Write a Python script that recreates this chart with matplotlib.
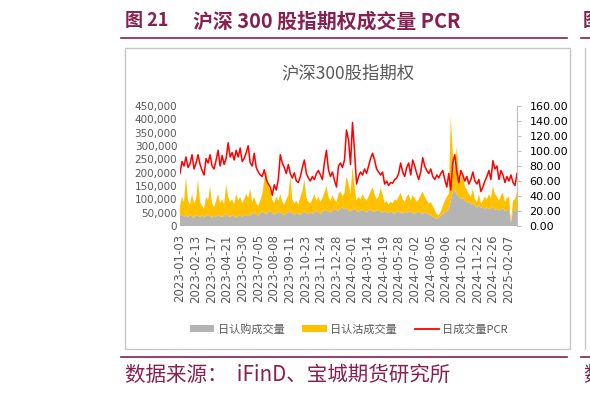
"""沪深300股指期权成交量 PCR - redraw of the report figure."""
import numpy as np
import matplotlib
matplotlib.use('Agg')
import matplotlib.pyplot as plt
from matplotlib.patches import Rectangle, Patch
from matplotlib.lines import Line2D
from matplotlib.ticker import FuncFormatter, FormatStrFormatter

plt.rcParams['font.family'] = ['Noto Sans CJK SC', 'DejaVu Sans']

# dates shown on the x axis (one label every 23 trading days)
tick_labels = ['2023-01-03', '2023-02-13', '2023-03-17', '2023-04-21', '2023-05-30',
               '2023-07-05', '2023-08-08', '2023-09-11', '2023-10-23', '2023-11-24',
               '2023-12-28', '2024-02-01', '2024-03-14', '2024-04-19', '2024-05-28',
               '2024-07-02', '2024-08-05', '2024-09-06', '2024-10-21', '2024-11-22',
               '2024-12-26', '2025-02-07']
tick_step = 7.8  # data points between two labelled dates

# daily call volume, thousand contracts (sampled every ~3 trading days)
call_k = [38, 42, 35, 40, 33, 44, 36, 30, 41, 38,
          34, 40, 32, 37, 44, 36, 31, 39, 35, 42,
          37, 33, 40, 45, 38, 34, 41, 36, 30, 38,
          42, 35, 39, 44, 37, 40, 46, 50, 43, 38,
          48, 55, 50, 44, 52, 58, 49, 42, 47, 54,
          50, 45, 40, 48, 52, 56, 47, 43, 50, 46,
          42, 49, 55, 48, 44, 51, 46, 52, 58, 50,
          47, 53, 58, 62, 55, 50, 57, 64, 60, 55,
          66, 70, 62, 68, 58, 54, 60, 65, 57, 52,
          59, 62, 56, 50, 58, 63, 55, 52, 57, 61,
          54, 50, 56, 52, 48, 55, 50, 46, 53, 57,
          50, 47, 54, 49, 52, 56, 48, 45, 51, 55,
          49, 46, 52, 48, 44, 40, 36, 30, 28, 32,
          38, 45, 50, 55, 62, 95, 130, 135, 118, 110,
          100, 105, 95, 88, 92, 80, 85, 75, 70, 78,
          68, 72, 65, 70, 62, 66, 72, 60, 64, 58,
          62, 68, 55, 60, 64, 12, 56, 58, 62]

# daily put volume, thousand contracts
put_k = [37, 68, 55, 145, 62, 36, 84, 55, 59, 137,
         56, 35, 33, 73, 51, 114, 54, 31, 60, 78,
         48, 67, 40, 111, 72, 56, 59, 44, 90, 57,
         68, 50, 61, 76, 68, 100, 44, 60, 42, 37,
         47, 65, 120, 166, 98, 72, 51, 43, 63, 41,
         70, 45, 40, 52, 63, 129, 53, 42, 45, 34,
         68, 81, 120, 57, 46, 34, 54, 68, 37, 60,
         43, 52, 67, 88, 55, 45, 58, 36, 30, 65,
         64, 40, 63, 117, 102, 66, 162, 85, 38, 58,
         41, 58, 49, 45, 52, 67, 90, 68, 43, 49,
         88, 70, 29, 43, 32, 35, 35, 54, 42, 53,
         75, 53, 36, 61, 68, 39, 67, 60, 39, 45,
         66, 84, 58, 47, 41, 50, 39, 30, 17, 8,
         17, 30, 45, 55, 58, 315, 143, 75, 179, 80,
         70, 95, 55, 47, 28, 30, 55, 25, 20, 42,
         17, 23, 45, 30, 58, 39, 78, 60, 46, 37,
         53, 57, 35, 45, 46, 4, 39, 42, 68]

# volume PCR (right axis)
pcr = [70, 86, 80, 92, 78, 83, 95, 76, 84, 95,
       82, 74, 68, 90, 84, 95, 80, 76, 88, 101,
       80, 94, 82, 90, 111, 92, 98, 88, 101, 92,
       104, 86, 90, 98, 107, 84, 80, 97, 78, 72,
       68, 66, 75, 62, 56, 52, 41, 55, 48, 62,
       95, 84, 78, 70, 82, 70, 64, 71, 60, 58,
       66, 78, 88, 70, 64, 60, 66, 62, 70, 74,
       68, 62, 85, 101, 75, 66, 72, 61, 52, 80,
       84, 78, 88, 128, 115, 82, 138, 100, 56, 66,
       72, 68, 76, 70, 80, 90, 97, 88, 76, 72,
       68, 72, 56, 60, 54, 58, 57, 62, 64, 70,
       84, 72, 66, 78, 84, 68, 88, 80, 70, 62,
       72, 91, 80, 74, 70, 76, 66, 62, 68, 64,
       70, 74, 62, 52, 70, 48, 85, 95, 72, 58,
       74, 68, 60, 66, 56, 62, 72, 60, 56, 62,
       46, 52, 60, 66, 74, 62, 87, 76, 80, 62,
       74, 68, 58, 66, 60, 68, 58, 54, 70]

W, H = 590, 394
maroon = '#862050'
grey_txt = '#595959'


def fx(px):
    return px / W


def fy(py):
    return 1 - py / H


fig = plt.figure(figsize=(5.9, 3.94), dpi=100)

# report header / footer
fig.text(fx(125), fy(21), '图 21', color=maroon, fontsize=13, fontweight='bold', va='center')
fig.text(fx(193), fy(21), '沪深 300 股指期权成交量 PCR', color=maroon, fontsize=14.3,
         fontweight='bold', va='center')
# edge of the next figure on the page
fig.text(fx(583), fy(21), '图', color=maroon, fontsize=13, fontweight='bold', va='center')
for y in (38, 357):
    fig.add_artist(Line2D([fx(121), fx(567)], [fy(y), fy(y)], color=maroon, lw=1.2))
    fig.add_artist(Line2D([fx(581), fx(590)], [fy(y), fy(y)], color=maroon, lw=1.2))
fig.add_artist(Rectangle((fx(125), fy(349)), fx(570) - fx(125), fy(48) - fy(349),
                         fill=False, ec='#C8C8C8', lw=1))
fig.add_artist(Line2D([fx(585), fx(585)], [fy(48), fy(349)], color='#C8C8C8', lw=1))
fig.text(fx(125), fy(375), '数据来源：  iFinD、宝城期货研究所', color=maroon, fontsize=14.8,
         va='center')
fig.text(fx(583), fy(375), '数', color=maroon, fontsize=14.8, va='center')

fig.text(fx(348), fy(73), '沪深300股指期权', ha='center', va='center', fontsize=12.5,
         color=grey_txt)

# volume areas (left axis)
ax = fig.add_axes([fx(180), fy(226), fx(517) - fx(180), fy(106) - fy(226)])
x = np.arange(len(pcr))
call = np.array(call_k) * 1000
put = np.array(put_k) * 1000
ax.stackplot(x, call, put, colors=['#B4B4B4', '#FFC000'], lw=0)
ax.set_xlim(0, len(pcr) - 1)
ax.set_ylim(0, 450000)
ax.set_yticks(range(0, 450001, 50000))
ax.yaxis.set_major_formatter(FuncFormatter(lambda v, p: f'{v:,.0f}'))
ax.set_xticks(np.arange(len(tick_labels)) * tick_step)
ax.set_xticklabels(tick_labels, rotation=90, family='DejaVu Sans', fontsize=8.5,
                   color=grey_txt)
ax.tick_params(axis='x', length=0, pad=6)
ax.tick_params(axis='y', length=0, pad=2, labelsize=7.5, labelcolor=grey_txt)
for lab in ax.get_yticklabels():
    lab.set_family('DejaVu Sans')
for s in ax.spines.values():
    s.set_visible(False)
ax.patch.set_alpha(0)

# PCR line (right axis)
ax2 = ax.twinx()
ax2.plot(x, pcr, color='#FF0000', lw=1.1)
ax2.set_ylim(0, 160)
ax2.set_yticks(range(0, 161, 20))
ax2.yaxis.set_major_formatter(FormatStrFormatter('%.2f'))
ax2.tick_params(axis='y', length=3, width=0.8, color='#BFBFBF', pad=6, labelsize=8,
                labelcolor='#000000')
for lab in ax2.get_yticklabels():
    lab.set_family('DejaVu Sans')
for k, s in ax2.spines.items():
    s.set_visible(k == 'right')
ax2.spines['right'].set_color('#BFBFBF')
ax2.spines['right'].set_linewidth(0.8)

handles = [Patch(facecolor='#B4B4B4'), Patch(facecolor='#FFC000'),
           Line2D([], [], color='#FF0000', lw=1.3)]
fig.legend(handles, ['日认购成交量', '日认沽成交量', '日成交量PCR'], loc='center',
           bbox_to_anchor=(fx(349), fy(329)), ncol=3, frameon=False, fontsize=8,
           handlelength=2.2, handleheight=0.7, columnspacing=1.6, handletextpad=0.3,
           labelcolor=grey_txt)

fig.savefig('out.png', dpi=100)
